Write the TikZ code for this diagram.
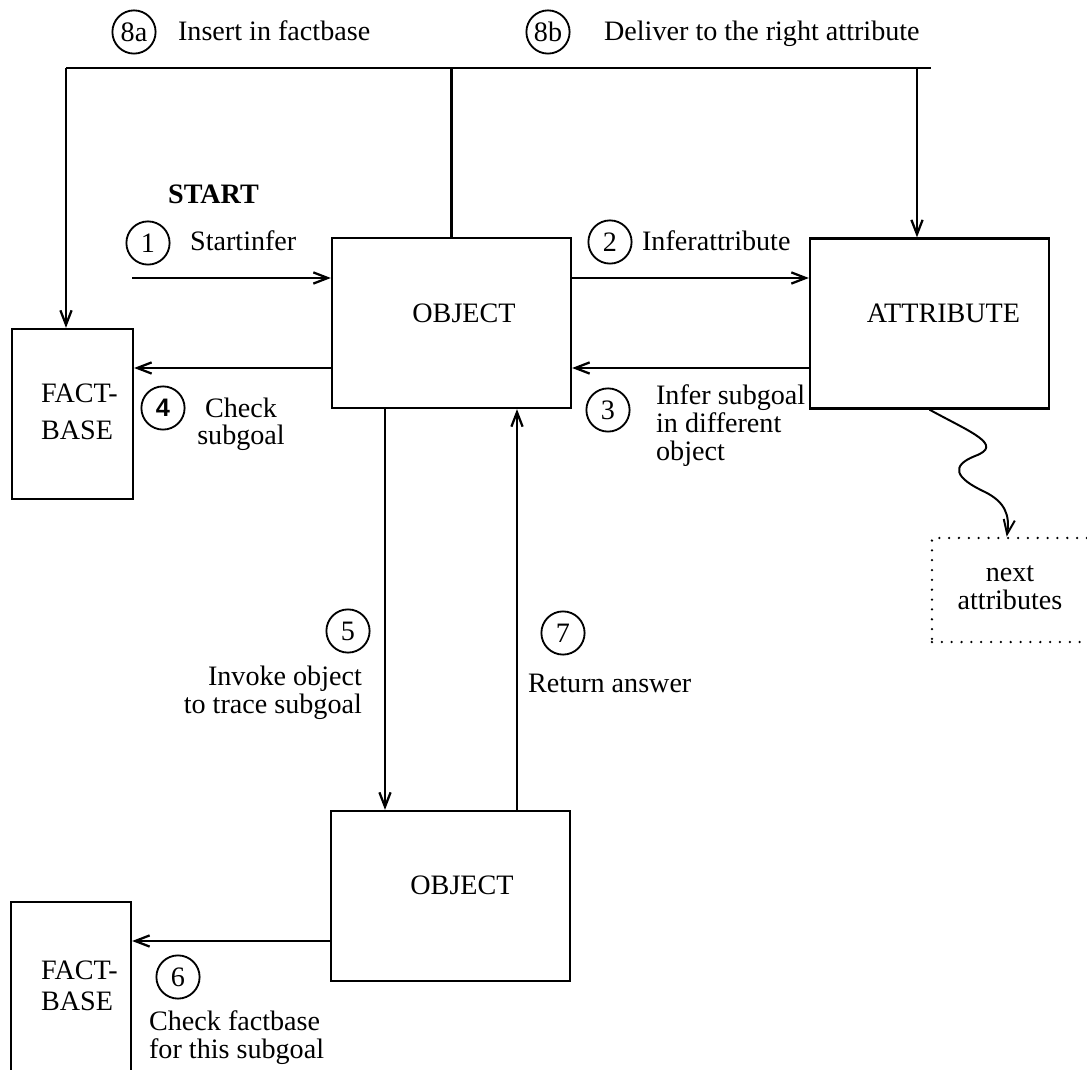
\documentclass[tikz,border=0pt]{standalone}
\usepackage{fontspec}
\setmainfont{Liberation Serif}
\setsansfont{Liberation Sans}
\usetikzlibrary{arrows.meta,calc}
\tikzset{
	box/.style={draw, rectangle, inner sep=0pt},
	bigbox/.style={box, minimum width=5.975cm, minimum height=4.25cm},
	dotbox/.style={draw, rectangle, inner sep=0pt, line width=1.8pt, line cap=round, dash pattern=on 0pt off 7pt},
	num/.style={draw, circle, line width=1.3pt, minimum size=1.08cm, inner sep=0pt},
	txt/.style={inner sep=0pt},
	arr/.style={-{Straight Barb[length=3.6mm,width=2.8mm]}},
}

\begin{document}
\begin{tikzpicture}[x=0.025cm, y=-0.025cm, line width=1.6pt, font=\fontsize{20}{19.9}\selectfont]
			%%%%% START %%%%%
			\useasboundingbox (0,0) rectangle (1087,1070);
			\clip (0,0) rectangle (1087,1070);
			
			% boxes
			\node[bigbox] (obj1) at (451.5,323) {};
			\node[bigbox] (attr) at (929.5,323.5) {};
			\node[bigbox] (obj2) at (450.5,896) {};
			\node[box, minimum width=3.025cm, minimum height=4.25cm] (fb1) at (72.5,414) {};
			\node[box, minimum width=3cm, minimum height=5.45cm] (fb2) at (71,1011) {};
			\node[dotbox, minimum width=4.45cm, minimum height=2.6cm] (next) at (1021,590) {};
			
			\node[txt] (obj1txt) at (464,313) {OBJECT};
			\node[txt] (attrtxt) at (943.5,313) {ATTRIBUTE};
			\node[txt] (obj2txt) at (462,885) {OBJECT};
			\node[txt, align=left, anchor=base west] (fb1txt) at (40,440) {FACT-\\[7pt]BASE};
			\node[txt, align=left, anchor=base west] (fb2txt) at (40,1010) {FACT-\\[1.5pt]BASE};
			\node[txt, align=center, anchor=base] (nexttxt) at (1010,609) {next\\attributes};
			
			% numbered steps
			\node[num] (n8a) at (134,32) {8a};
			\node[txt, anchor=base west] (t8a) at (177,41) {Insert in factbase};
			\node[num] (n8b) at (548,32) {8b};
			\node[txt, anchor=base west] (t8b) at (603,41) {Deliver to the right attribute};
			
			\node[txt, anchor=base west, font=\fontsize{20}{19.9}\selectfont\bfseries] (tstart) at (167,204) {START};
			\node[num] (n1) at (148,243) {1};
			\node[txt, anchor=base west] (t1) at (189,251) {Startinfer};
			\node[num] (n2) at (610,242) {2};
			\node[txt, anchor=base west] (t2) at (641,251) {Inferattribute};
			\node[num] (n3) at (608,410) {3};
			\node[txt, align=left, anchor=base west] (t3) at (655,460) {Infer subgoal\\in different\\object};
			\node[num, font=\fontsize{18}{18}\sffamily\bfseries] (n4) at (163,408) {4};
			\node[txt, align=center, anchor=base] (t4) at (241,445) {Check\\subgoal};
			\node[num] (n5) at (348,631) {5};
			\node[txt, align=right, anchor=base east] (t5) at (363,713) {Invoke object\\to trace subgoal};
			\node[num] (n7) at (563,633) {7};
			\node[txt, anchor=base west] (t7) at (527,692) {Return answer};
			\node[num] (n6) at (178,977) {6};
			\node[txt, align=left, anchor=base west] (t6) at (148,1058) {Check factbase\\for this subgoal};
			
			% connectors
			\coordinate (busL) at (66,68);
			\coordinate (busR) at (931,68);
			\coordinate (busD) at (917,68);
			\draw (busL) -- (busR);
			\draw[arr] (busL) -- (busL |- fb1.north);
			\draw (obj1.north) -- (obj1.north |- busL);
			\draw[arr] (busD) -- (busD |- attr.north);
			
			\coordinate (in1) at (132,278);
			\draw[arr] (in1) -- (in1 -| obj1.west);
			\draw[arr] (in1 -| obj1.east) -- (in1 -| attr.west);
			\coordinate (lvl3) at (0,368);
			\draw[arr] (lvl3 -| attr.west) -- (lvl3 -| obj1.east);
			\draw[arr] (lvl3 -| obj1.west) -- (lvl3 -| fb1.east);
			
			\coordinate (down5) at (385,0);
			\coordinate (up7) at (517,0);
			\draw[arr] (down5 |- obj1.south) -- (down5 |- obj2.north);
			\draw[arr] (up7 |- obj2.north) -- (up7 |- obj1.south);
			\coordinate (lvl6) at (0,941);
			\draw[arr] (lvl6 -| obj2.west) -- (lvl6 -| fb2.east);
			
			\draw[arr, line width=1.4pt] (attr.south) .. controls (970,432) and (1005,445) .. (975,456)
				.. controls (950,466) and (955,478) .. (985,492)
				.. controls (1005,502) and (1010,515) .. ($(next.north west)+(76,0)$);
			
			%%%%% END %%%%%
		\end{tikzpicture}
\end{document}
